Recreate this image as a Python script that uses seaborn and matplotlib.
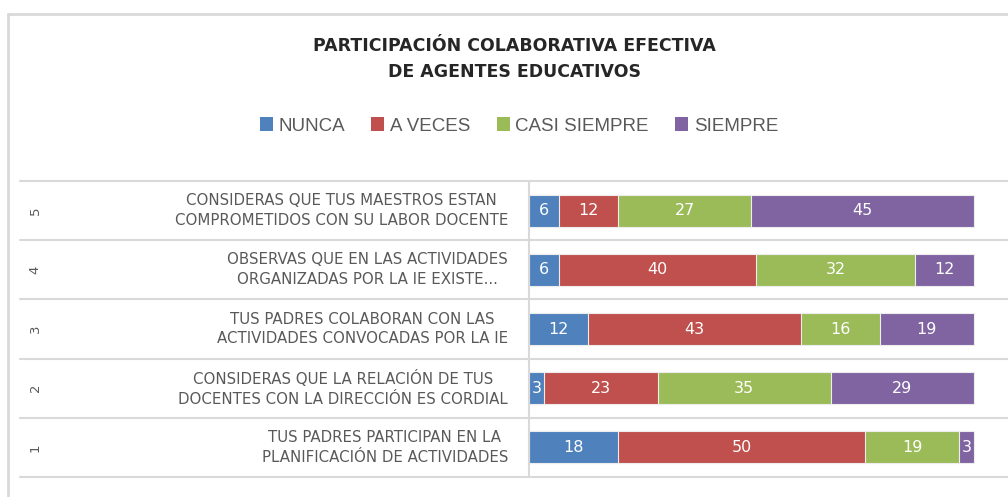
import pandas as pd
import numpy as np
import matplotlib.pyplot as plt
import matplotlib.transforms as mtransforms
from matplotlib.lines import Line2D
from matplotlib.patches import Patch
import seaborn as sns

# Data (rows listed from top to bottom, as in the chart)
filas = ['5', '4', '3', '2', '1']
preguntas = [
    'CONSIDERAS QUE TUS MAESTROS ESTAN\nCOMPROMETIDOS CON SU LABOR DOCENTE',
    'OBSERVAS QUE EN LAS ACTIVIDADES\nORGANIZADAS POR LA IE EXISTE...',
    'TUS PADRES COLABORAN CON LAS\nACTIVIDADES CONVOCADAS POR LA IE',
    'CONSIDERAS QUE LA RELACIÓN DE TUS\nDOCENTES CON LA DIRECCIÓN ES CORDIAL',
    'TUS PADRES PARTICIPAN EN LA\nPLANIFICACIÓN DE ACTIVIDADES',
]
categorias = ['NUNCA', 'A VECES', 'CASI SIEMPRE', 'SIEMPRE']
nunca = [6, 6, 12, 3, 18]
a_veces = [12, 40, 43, 23, 50]
casi_siempre = [27, 32, 16, 35, 19]
siempre = [45, 12, 19, 29, 3]
colores = ['#4F81BD', '#C0504D', '#9BBB59', '#8064A2']

titulo = 'PARTICIPACIÓN COLABORATIVA EFECTIVA\nDE AGENTES EDUCATIVOS'

df = pd.DataFrame({'fila': filas, 'NUNCA': nunca, 'A VECES': a_veces,
                   'CASI SIEMPRE': casi_siempre, 'SIEMPRE': siempre})
acum = df[categorias].cumsum(axis=1)

sns.set_theme(style='white')
plt.rcParams['font.family'] = ['DejaVu Sans']

fig = plt.figure(figsize=(10.08, 4.97), dpi=100)
ax = fig.add_axes([529 / 1008, 20 / 497, 479 / 1008, 296 / 497])

# Stacked bars: draw cumulative totals from the last series down to the first
for cat, col in reversed(list(zip(categorias, colores))):
    sns.barplot(x=acum[cat], y=df['fila'], order=filas, orient='h', color=col,
                saturation=1, width=0.54, errorbar=None, edgecolor='#EDEDED',
                linewidth=0.8, ax=ax)

# Value labels centred in each segment
for cat in categorias:
    for i, (v, c) in enumerate(zip(df[cat], acum[cat])):
        ax.text(c - v / 2, i, str(v), ha='center', va='center', color='white',
                fontsize=11.5)

ax.set_xlim(0, 96.9)
ax.set_ylim(4.5, -0.5)
ax.set_xticks([])
ax.set_yticks([])
ax.set_xlabel('')
ax.set_ylabel('')
for s in ['top', 'right', 'bottom']:
    ax.spines[s].set_visible(False)
ax.spines['left'].set_color('#D9D9D9')
ax.spines['left'].set_linewidth(1.5)

# Table-like row separators reaching into the label area
for y in np.arange(-0.5, len(filas), 1.0):
    ax.axhline(y, xmin=-509 / 479, xmax=1, color='#D9D9D9', lw=1.5,
               clip_on=False, zorder=0)

trans = mtransforms.blended_transform_factory(ax.transAxes, ax.transData)
for i, (f, q) in enumerate(zip(filas, preguntas)):
    ax.text(-21 / 479, i, q, transform=trans, ha='right', va='center',
            multialignment='center', color='#595959', fontsize=10.8,
            linespacing=1.4)
    ax.text(-494 / 479, i, f, transform=trans, ha='center', va='center',
            rotation=90, color='#595959', fontsize=9.5)

fig.text(514 / 1008, 1 - 59 / 497, titulo, ha='center', va='center',
         fontsize=12.5, fontweight='bold', color='#262626', linespacing=1.55)

handles = [Patch(facecolor=c, edgecolor='none') for c in colores]
fig.legend(handles, categorias, loc='center', ncol=4, frameon=False,
           bbox_to_anchor=(519 / 1008, 1 - 126 / 497),
           labelcolor='#595959', handlelength=0.7, handleheight=0.7,
           handletextpad=0.3, columnspacing=1.4,
           prop={'family': 'Liberation Sans', 'size': 13.5})

# Outer chart frame (left and top edges visible)
fig.add_artist(Line2D([8 / 1008, 8 / 1008], [0, 1 - 14 / 497], color='#D9D9D9', lw=2))
fig.add_artist(Line2D([8 / 1008, 1], [1 - 14 / 497, 1 - 14 / 497], color='#D9D9D9', lw=2))

fig.savefig('out.png', dpi=100)
